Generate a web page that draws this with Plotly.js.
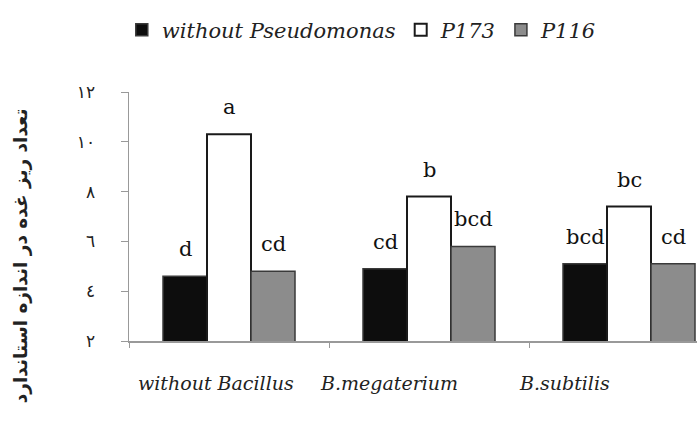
<!DOCTYPE html>
<html><head><meta charset="utf-8">
<script src="https://cdn.plot.ly/plotly-3.0.1.min.js"></script>
<style>html,body{margin:0;padding:0;background:#fff;}#chart{width:697px;height:424px;}</style>
</head><body><div id="chart"></div>
<script>
const categories = ['without Bacillus', 'B.megaterium', 'B.subtilis'];
const seriesNames = ['without Pseudomonas', 'P173', 'P116'];
const withoutPseudomonas = [4.6, 4.9, 5.1];
const p173 = [10.3, 7.8, 7.4];
const p116 = [4.8, 5.8, 5.1];
const lettersWithout = ['d', 'cd', 'bcd'];
const lettersP173 = ['a', 'b', 'bc'];
const lettersP116 = ['cd', 'bcd', 'cd'];
const yTickVals = [2, 4, 6, 8, 10, 12];
const yTickText = ['٢', '٤', '٦', '٨', '١٠', '١٢'];
const yTitle = 'تعداد ریز غده در اندازه استاندارد';

const bargap = 0.34;
const barW = (1 - bargap) / 3;
const xIdx = categories.map((c, i) => i);
const seriesVals = [withoutPseudomonas, p173, p116];
const seriesLetters = [lettersWithout, lettersP173, lettersP116];
const fills = ['#0d0d0d', '#ffffff', '#8c8c8c'];
const lines = ['#3a3a3a', '#1a1a1a', '#3a3a3a'];
const lineW = [1.5, 2, 1.5];
const labelShift = [-13, -40, -65];

const traces = seriesVals.map((vals, s) => ({
  type: 'bar', name: seriesNames[s], x: xIdx, y: vals,
  marker: {color: fills[s], line: {color: lines[s], width: lineW[s]}},
  hoverinfo: 'skip'
}));

const annotations = [];
seriesVals.forEach((vals, s) => {
  vals.forEach((v, i) => {
    annotations.push({
      x: i + (s - 1) * barW, y: v, xref: 'x', yref: 'y',
      text: seriesLetters[s][i], showarrow: false,
      xanchor: 'center', yanchor: 'bottom', yshift: 13,
      font: {family: 'DejaVu Serif', size: 21, color: '#111'}
    });
  });
});
categories.forEach((c, i) => {
  annotations.push({
    x: i, y: -0.169, xref: 'x', yref: 'paper', text: c, showarrow: false,
    xanchor: 'center', yanchor: 'middle', xshift: labelShift[i],
    font: {family: 'DejaVu Serif', style: 'italic', size: 19, color: '#222'}
  });
});
annotations.push({
  x: -0.19, y: 0.341, xref: 'paper', yref: 'paper', text: yTitle,
  showarrow: false, textangle: -90, xanchor: 'center', yanchor: 'middle',
  font: {family: 'DejaVu Sans', size: 18.5, color: '#222', weight: 'bold'}
});

const layout = {
  width: 697, height: 424,
  margin: {l: 129, r: 0, t: 92, b: 83},
  paper_bgcolor: '#fff', plot_bgcolor: '#fff',
  barmode: 'group', bargap: bargap, bargroupgap: 0,
  showlegend: true,
  legend: {orientation: 'h', x: -0.0127, xanchor: 'left', y: 1.249, yanchor: 'middle',
    font: {family: 'DejaVu Serif', style: 'italic', size: 21, color: '#222'},
    traceorder: 'normal'},
  xaxis: {range: [-0.5, 2.34], showgrid: false, zeroline: false, showline: true,
    linecolor: '#999', linewidth: 1.5, tickmode: 'array', tickvals: [-0.5, 0.5, 1.5, 2.5],
    ticktext: ['', '', '', ''], ticks: 'outside', ticklen: 5, tickcolor: '#999', fixedrange: true},
  yaxis: {range: [2, 12], showgrid: false, zeroline: false, showline: true,
    linecolor: '#999', linewidth: 1.5, tickmode: 'array', tickvals: yTickVals, ticktext: yTickText,
    ticks: 'outside', ticklen: 7, tickcolor: '#999', ticklabelstandoff: 22,
    tickfont: {family: 'DejaVu Sans', size: 17, color: '#222'}, fixedrange: true},
  annotations: annotations
};
Plotly.newPlot('chart', traces, layout, {displayModeBar: false, staticPlot: true});
</script></body></html>
